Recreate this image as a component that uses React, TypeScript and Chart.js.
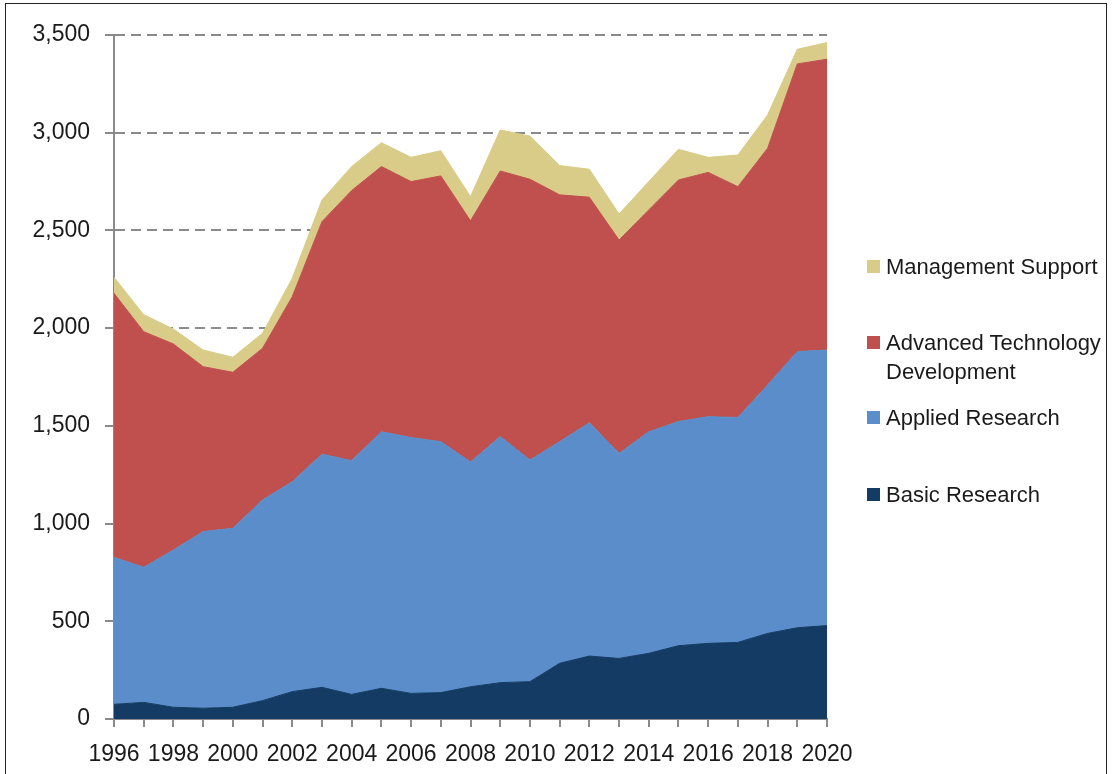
import React, { useEffect, useRef } from "react";
import { Chart, registerables } from "chart.js";

Chart.register(...registerables);

const years = [
  "1996", "1997", "1998", "1999", "2000", "2001", "2002", "2003", "2004", "2005",
  "2006", "2007", "2008", "2009", "2010", "2011", "2012", "2013", "2014", "2015",
  "2016", "2017", "2018", "2019", "2020",
];

const basicResearch = [75, 85, 60, 55, 60, 94, 140, 162, 126, 157, 131, 135, 165, 186, 191, 285, 322, 310, 336, 375, 387, 392, 438, 467, 478];
const appliedResearch = [752, 691, 805, 904, 916, 1027, 1074, 1193, 1196, 1313, 1309, 1284, 1150, 1259, 1134, 1134, 1194, 1049, 1134, 1147, 1160, 1151, 1271, 1413, 1410];
const advancedTechDev = [1351, 1206, 1054, 844, 798, 776, 947, 1190, 1382, 1357, 1310, 1360, 1234, 1359, 1437, 1263, 1154, 1092, 1135, 1236, 1250, 1181, 1211, 1472, 1488];
const managementSupport = [82, 87, 76, 85, 77, 77, 94, 111, 123, 122, 124, 129, 124, 210, 221, 150, 143, 133, 145, 157, 77, 162, 171, 75, 85];

const yTicks = [0, 500, 1000, 1500, 2000, 2500, 3000, 3500];

const seriesNames = ["Basic Research", "Applied Research", "Advanced Technology Development", "Management Support"];
const legendLines = [["Basic Research"], ["Applied Research"], ["Advanced Technology", "Development"], ["Management Support"]];
const seriesColors = ["#133B63", "#5A8DCA", "#C0504D", "#D9CC88"];

export default function App() {
  const canvasRef = useRef<HTMLCanvasElement | null>(null);

  useEffect(() => {
    if (!canvasRef.current) return;
    const values = [basicResearch, appliedResearch, advancedTechDev, managementSupport];
    const chart = new Chart(canvasRef.current, {
      type: "line",
      data: {
        labels: years,
        datasets: values.map((v, i) => ({
          label: seriesNames[i],
          data: v,
          backgroundColor: seriesColors[i],
          borderColor: seriesColors[i],
          borderWidth: 1,
          pointRadius: 0,
          tension: 0,
          fill: i === 0 ? "origin" : "-1",
        })),
      },
      options: {
        animation: false,
        responsive: false,
        maintainAspectRatio: false,
        layout: { padding: { left: 0, right: 285, top: 35, bottom: 0 } },
        plugins: { legend: { display: false }, tooltip: { enabled: false } },
        scales: {
          x: {
            stacked: true,
            offset: false,
            grid: {
              display: true,
              drawOnChartArea: false,
              drawTicks: true,
              tickLength: 8,
              color: "#8a8a8a",
              lineWidth: 2,
            },
            border: { display: true, color: "#8a8a8a", width: 2 },
            ticks: {
              autoSkip: false,
              maxRotation: 0,
              minRotation: 0,
              padding: 14,
              color: "#1a1a1a",
              font: { family: "'Liberation Sans', Arial, sans-serif", size: 23 },
              callback: (_v: any, idx: number) => (idx % 2 === 0 ? years[idx] : ""),
            },
            afterFit: (s: any) => {
              s.height = 55;
            },
          },
          y: {
            stacked: true,
            min: 0,
            max: 3500,
            afterBuildTicks: (s: any) => {
              s.ticks = yTicks.map((v) => ({ value: v }));
            },
            grid: {
              color: "#8a8a8a",
              lineWidth: 2,
              drawTicks: true,
              tickLength: 9,
              tickBorderDash: [],
            },
            border: { display: true, color: "#8a8a8a", width: 2, dash: [10, 6] },
            ticks: {
              padding: 15,
              color: "#1a1a1a",
              font: { family: "'Liberation Sans', Arial, sans-serif", size: 23 },
              callback: (v: any) => Number(v).toLocaleString("en-US"),
            },
            afterFit: (s: any) => {
              s.width = 114;
            },
          },
        },
      },
    });
    return () => chart.destroy();
  }, []);

  const legendOrder = [3, 2, 1, 0];
  const legendTops = [252, 328, 403, 480];

  return (
    <div style={{ position: "absolute", left: 0, top: 0, width: 1112, height: 774, background: "#fff", overflow: "hidden" }}>
      <div
        style={{
          position: "absolute",
          left: 5,
          top: 3,
          width: 1102,
          height: 800,
          border: "1.5px solid #222",
          boxSizing: "border-box",
        }}
      />
      <canvas ref={canvasRef} width={1112} height={774} style={{ position: "absolute", left: 0, top: 0 }} />
      {legendOrder.map((si, k) => (
        <div key={si} style={{ position: "absolute", left: 867, top: legendTops[k], fontFamily: "'Liberation Sans', Arial, sans-serif", fontSize: 22, color: "#1a1a1a", lineHeight: "29px" }}>
          <span style={{ position: "absolute", left: 0, top: 8, width: 13, height: 13, background: seriesColors[si] }} />
          <div style={{ marginLeft: 19, whiteSpace: "nowrap" }}>
            {legendLines[si].map((t) => (
              <div key={t}>{t}</div>
            ))}
          </div>
        </div>
      ))}
    </div>
  );
}
